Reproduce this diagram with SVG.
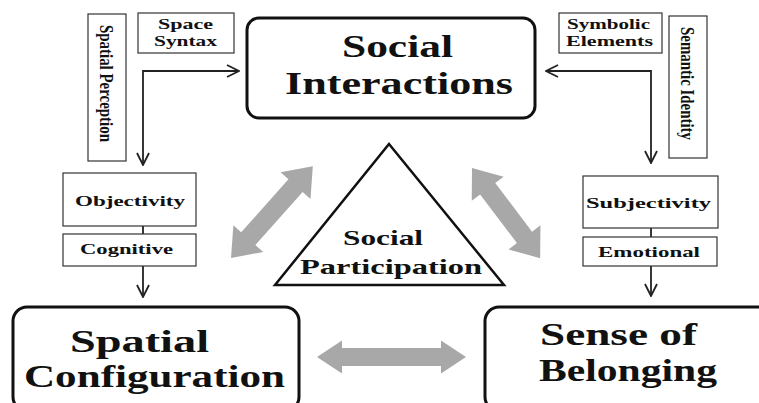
<svg xmlns="http://www.w3.org/2000/svg" width="759" height="403" viewBox="0 0 759 403">
  <defs>
    <style>
      text { font-family: 'Liberation Serif', 'DejaVu Serif', serif; font-weight: 700; fill: #111; }
      .big { font-size: 32px; }
      .mid { font-size: 22px; }
      .sm { font-size: 15.5px; }
      .vert { font-size: 19px; }
      .box { fill: #fff; stroke: #333; stroke-width: 1.2; }
      .main { fill: #fff; stroke: #111; stroke-width: 3; }
      .link { fill: none; stroke: #222; stroke-width: 1.8; }
      .dbl { fill: #a8a8a8; }
    </style>
    <marker id="open" viewBox="0 0 14 14" refX="13" refY="7" markerWidth="14" markerHeight="14" markerUnits="userSpaceOnUse" orient="auto-start-reverse">
      <path d="M1,1 L13,7 L1,13" fill="none" stroke="#222" stroke-width="1.8"/>
    </marker>
  </defs>
  <rect width="759" height="403" fill="#fff"/>

  <!-- connectors -->
  <g id="connectors">
    <path class="link" d="M143,165 V71 H239" marker-start="url(#open)" marker-end="url(#open)"/>
    <path class="link" d="M546,71 H651 V163" marker-start="url(#open)" marker-end="url(#open)"/>
    <line class="link" x1="143" y1="226" x2="143" y2="234"/>
    <path class="link" d="M143,266 V297" marker-end="url(#open)"/>
    <line class="link" x1="651" y1="228" x2="651" y2="237"/>
    <path class="link" d="M651,266 V296" marker-end="url(#open)"/>
    <!-- grey two-way arrows -->
    <polygon class="dbl" transform="translate(231,258) rotate(-48.3)" points="0,0 26,-20 26,-9.5 97,-9.5 97,-20 123,0 97,20 97,9.5 26,9.5 26,20"/>
    <polygon class="dbl" transform="translate(472,168) rotate(52.9)" points="0,0 26,-20 26,-9.5 87,-9.5 87,-20 113,0 87,20 87,9.5 26,9.5 26,20"/>
    <polygon class="dbl" transform="translate(317,357)" points="0,0 25,-16.5 25,-9 124,-9 124,-16.5 149,0 124,16.5 124,9 25,9 25,16.5"/>
  </g>

  <!-- main concepts -->
  <g id="social-interactions" font-family="Liberation Serif, serif">
    <rect class="main" x="247" y="18" width="288" height="100" rx="12"/>
    <text class="big" x="342" y="57" textLength="111" lengthAdjust="spacingAndGlyphs">Social</text>
    <text class="big" x="285" y="94" textLength="228" lengthAdjust="spacingAndGlyphs">Interactions</text>
  </g>
  <g id="spatial-configuration">
    <rect class="main" x="13" y="307" width="286" height="104" rx="14"/>
    <text class="big" x="70" y="352" textLength="139" lengthAdjust="spacingAndGlyphs">Spatial</text>
    <text class="big" x="24" y="387" textLength="261" lengthAdjust="spacingAndGlyphs">Configuration</text>
  </g>
  <g id="sense-of-belonging">
    <rect class="main" x="485" y="307" width="300" height="104" rx="14"/>
    <text class="big" x="540" y="345" textLength="157" lengthAdjust="spacingAndGlyphs">Sense of</text>
    <text class="big" x="539" y="381" textLength="178" lengthAdjust="spacingAndGlyphs">Belonging</text>
  </g>
  <g id="social-participation">
    <polygon points="389,144 504,285 275,285" fill="#fff" stroke="#111" stroke-width="2.5"/>
    <text class="mid" x="343" y="245" textLength="80" lengthAdjust="spacingAndGlyphs">Social</text>
    <text class="mid" x="300" y="274" textLength="182" lengthAdjust="spacingAndGlyphs">Participation</text>
  </g>

  <!-- factor boxes -->
  <g id="space-syntax">
    <rect class="box" x="138" y="13" width="96" height="40"/>
    <text class="sm" x="158" y="29" textLength="55" lengthAdjust="spacingAndGlyphs">Space</text>
    <text class="sm" x="154" y="46" textLength="63" lengthAdjust="spacingAndGlyphs">Syntax</text>
  </g>
  <g id="spatial-perception">
    <rect class="box" x="88" y="14" width="38" height="147"/>
    <text class="vert" transform="translate(100,25) rotate(90)" textLength="117" lengthAdjust="spacingAndGlyphs">Spatial Perception</text>
  </g>
  <g id="symbolic-elements">
    <rect class="box" x="559" y="13" width="103" height="40"/>
    <text class="sm" x="567" y="29" textLength="83" lengthAdjust="spacingAndGlyphs">Symbolic</text>
    <text class="sm" x="566" y="46" textLength="87" lengthAdjust="spacingAndGlyphs">Elements</text>
  </g>
  <g id="semantic-identity">
    <rect class="box" x="669" y="16" width="38" height="142"/>
    <text class="vert" transform="translate(681,27) rotate(90)" textLength="113" lengthAdjust="spacingAndGlyphs">Semantic Identity</text>
  </g>
  <g id="objectivity">
    <rect class="box" x="63" y="173" width="133" height="53"/>
    <text class="sm" x="75" y="206" textLength="110" lengthAdjust="spacingAndGlyphs">Objectivity</text>
  </g>
  <g id="cognitive">
    <rect class="box" x="63" y="234" width="133" height="32"/>
    <text class="sm" x="80" y="254" textLength="93" lengthAdjust="spacingAndGlyphs">Cognitive</text>
  </g>
  <g id="subjectivity">
    <rect class="box" x="583" y="176" width="135" height="52"/>
    <text class="sm" x="586" y="208" textLength="125" lengthAdjust="spacingAndGlyphs">Subjectivity</text>
  </g>
  <g id="emotional">
    <rect class="box" x="583" y="237" width="134" height="29"/>
    <text class="sm" x="598" y="257" textLength="102" lengthAdjust="spacingAndGlyphs">Emotional</text>
  </g>
</svg>
